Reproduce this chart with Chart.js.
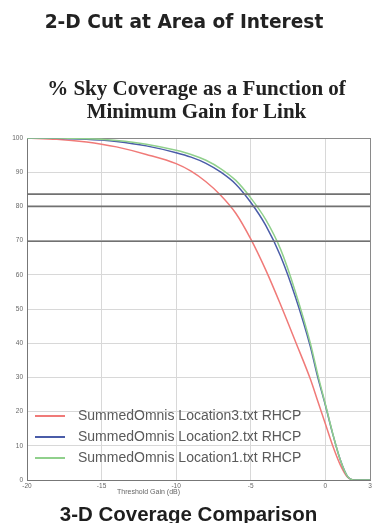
<!DOCTYPE html>
<html>
<head>
<meta charset="utf-8">
<script src="https://cdn.jsdelivr.net/npm/chart.js@4.4.1/dist/chart.umd.min.js"></script>
<style>
  html, body { margin: 0; padding: 0; background: #fff; }
  #wrap { position: relative; width: 377px; height: 523px; overflow: hidden; }
  #myChart { position: absolute; left: 0; top: 0; }
  .txt { position: absolute; white-space: nowrap; }
  #head { left: 0; width: 368px; top: 11px; text-align: center; font: bold 18.6px "DejaVu Sans", sans-serif; color: #222; line-height: 22px; }
  #sub { left: 25px; width: 343px; top: 77px; text-align: center; font: bold 21px "Liberation Serif", serif; color: #222; line-height: 23px; }
  #xtitle { left: 117px; top: 488px; font: 7px "Liberation Sans", sans-serif; color: #666; }
  #foot { left: 0; width: 377px; top: 503px; text-align: center; font: bold 20.5px "Liberation Sans", Arial, sans-serif; color: #1e1e1e; line-height: 22px; }
</style>
</head>
<body>
<div id="wrap">
  <canvas id="myChart" width="377" height="523"></canvas>
  <div class="txt" id="head">2-D Cut at Area of Interest</div>
  <div class="txt" id="sub">% Sky Coverage as a Function of<br>Minimum Gain for Link</div>
  <div class="txt" id="xtitle">Threshold Gain (dB)</div>
  <div class="txt" id="foot">3-D Coverage Comparison</div>
</div>
<script>
//threshold gain (dB) shared by the three curves
const gain = [-20, -18, -16, -15, -14, -12, -10, -9, -8, -7, -6, -5, -4, -3, -2, -1, -0.5, 0, 0.5, 1, 1.5, 2, 3];

//% sky coverage
const loc3 = [100, 99.6, 98.8, 98.2, 97.4, 95.2, 92.5, 90.3, 87.2, 83.2, 78, 70.5, 61.5, 51.3, 40.5, 29.5, 23, 16.5, 10, 4.5, 0.8, 0, 0];
const loc2 = [100, 99.9, 99.6, 99.4, 99, 97.7, 95.7, 94.4, 92.6, 90, 86.5, 81.2, 74.5, 65.5, 53.5, 39, 30, 22, 13.5, 6, 1, 0, 0];
const loc1 = [100, 100, 99.8, 99.6, 99.3, 98.2, 96.4, 95.2, 93.5, 91, 87.6, 82.5, 76.2, 67.5, 55, 40, 30.8, 22.3, 13.6, 6, 1, 0, 0];

const seriesNames = ['SummedOmnis Location3.txt RHCP', 'SummedOmnis Location2.txt RHCP', 'SummedOmnis Location1.txt RHCP'];

//dark horizontal lines across the plot
const refLevels = [83.6, 80, 69.8];

//tick settings
const xMin = -20, xMax = 3, xStep = 5;
const yMin = 0, yMax = 100, yStep = 10;

//colors
const red = '#f07a78';
const blue = '#4a5ca8';
const green = '#90d08c';

function toPoints(xs, ys){
    let data = [];
    for(let i=0;i<xs.length;i++){
        data.push({x: xs[i], y: ys[i]});
    }
    return data;
}

let datasets = [];
for(let lev of refLevels){
    datasets.push({
        label: 'ref ' + lev,
        data: toPoints([xMin, xMax], [lev, lev]),
        borderColor: '#717171',
        borderWidth: 1.6,
        pointRadius: 0,
        isRef: true
    });
}
datasets.push(
    {
        label: seriesNames[2],
        data: toPoints(gain, loc1),
        borderColor: green,
        borderWidth: 1.5,
        pointRadius: 0,
        cubicInterpolationMode: 'monotone'
    },
    {
        label: seriesNames[1],
        data: toPoints(gain, loc2),
        borderColor: blue,
        borderWidth: 1.5,
        pointRadius: 0,
        cubicInterpolationMode: 'monotone'
    },
    {
        label: seriesNames[0],
        data: toPoints(gain, loc3),
        borderColor: red,
        borderWidth: 1.5,
        pointRadius: 0,
        cubicInterpolationMode: 'monotone'
    }
);

//legend drawn inside the plot, lower left
const innerLegend = {
    id: 'innerLegend',
    afterDatasetsDraw(chart){
        const ctx = chart.ctx;
        const area = chart.chartArea;
        let items = chart.data.datasets.filter(d => !d.isRef).reverse();
        ctx.save();
        ctx.font = '14px "Liberation Sans", Arial, sans-serif';
        ctx.textBaseline = 'middle';
        for(let i=0;i<items.length;i++){
            let y = area.bottom - 64 + i*21;
            ctx.strokeStyle = items[i].borderColor;
            ctx.lineWidth = 2;
            ctx.beginPath();
            ctx.moveTo(area.left + 8, y);
            ctx.lineTo(area.left + 38, y);
            ctx.stroke();
            ctx.fillStyle = '#5a5a5a';
            ctx.fillText(items[i].label, area.left + 51, y);
        }
        ctx.restore();
    }
};

function gridColor(ctx, lo, hi){
    let v = ctx.tick ? ctx.tick.value : null;
    if(v === lo || v === hi) return '#8a8a8a';
    return '#d8d8d8';
}

const config = {
    type: 'line',
    data: { datasets: datasets },
    options: {
        responsive: false,
        animation: false,
        devicePixelRatio: 1,
        layout: { padding: { top: 138, right: 7, left: 0, bottom: 0 } },
        plugins: {
            legend: { display: false },
            tooltip: { enabled: false }
        },
        scales: {
            x: {
                type: 'linear',
                min: xMin,
                max: xMax,
                afterFit: function(scale){ scale.height = 43; },
                ticks: {
                    stepSize: xStep,
                    padding: 2,
                    color: '#666',
                    font: { size: 6.5, family: '"Liberation Sans", sans-serif' }
                },
                grid: {
                    drawTicks: false,
                    color: ctx => gridColor(ctx, xMin, xMax)
                },
                border: { color: '#777', width: 1 }
            },
            y: {
                min: yMin,
                max: yMax,
                afterFit: function(scale){ scale.width = 27; },
                ticks: {
                    stepSize: yStep,
                    padding: 4,
                    color: '#666',
                    font: { size: 6.5, family: '"Liberation Sans", sans-serif' }
                },
                grid: {
                    drawTicks: false,
                    color: ctx => gridColor(ctx, yMin, yMax)
                },
                border: { color: '#777', width: 1 }
            }
        }
    },
    plugins: [innerLegend]
};

const ctx = document.getElementById('myChart').getContext('2d');
const myChart = new Chart(ctx, config);
</script>
</body>
</html>
